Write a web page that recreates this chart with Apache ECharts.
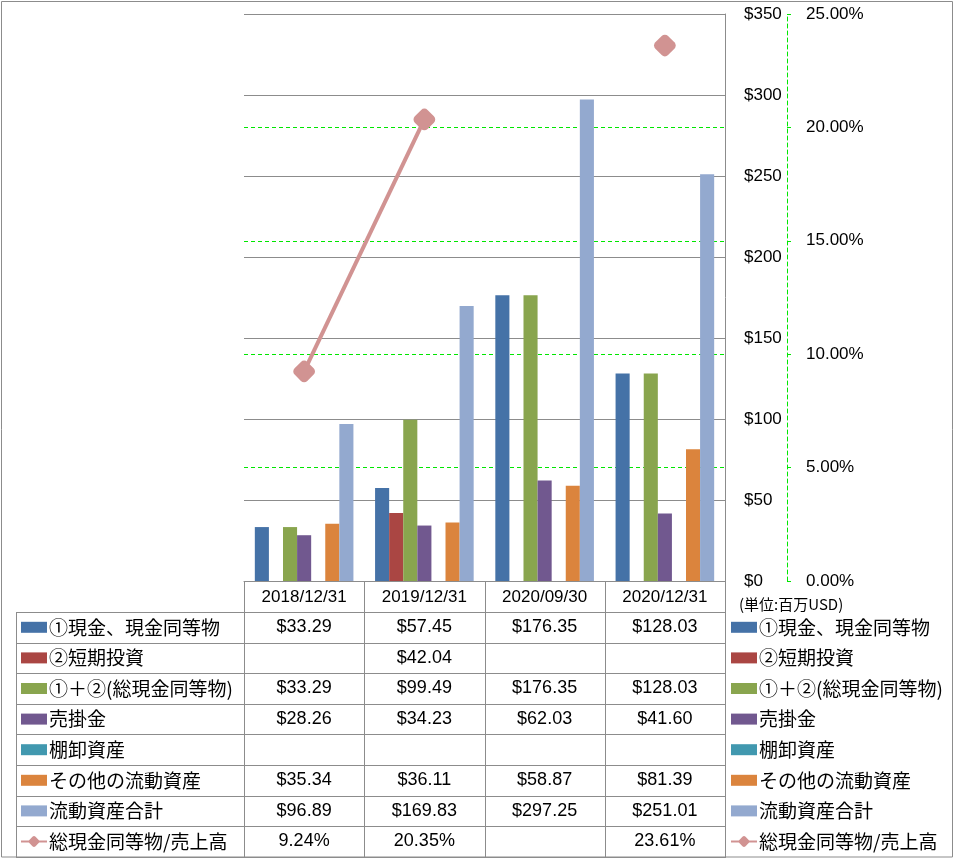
<!DOCTYPE html>
<html><head><meta charset="utf-8">
<script src="https://cdn.jsdelivr.net/npm/echarts@6/dist/echarts.min.js"></script>
<style>html,body{margin:0;padding:0;background:#fff}#c{width:957px;height:858px}</style>
</head><body><div id="c"></div>
<script>
const categories = ['2018/12/31', '2019/12/31', '2020/09/30', '2020/12/31'];
const seriesNames = ['①現金、現金同等物', '②短期投資', '①＋②(総現金同等物)', '売掛金', '棚卸資産', 'その他の流動資産', '流動資産合計', '総現金同等物/売上高'];
const cash = [33.29, 57.45, 176.35, 128.03];
const shortInv = [null, 42.04, null, null];
const totalCash = [33.29, 99.49, 176.35, 128.03];
const receivables = [28.26, 34.23, 62.03, 41.60];
const inventory = [null, null, null, null];
const otherCurrent = [35.34, 36.11, 58.87, 81.39];
const totalCurrent = [96.89, 169.83, 297.25, 251.01];
const cashToSales = [9.24, 20.35, null, 23.61];
const colors = ['#4572A7', '#AA4643', '#89A54E', '#71588F', '#4198AF', '#DB843D', '#93A9CF', '#D19392'];
const unitLabel = '(単位:百万USD)';

const barData = [cash, shortInv, totalCash, receivables, inventory, otherCurrent, totalCurrent];
const JP = '"Noto Sans CJK JP", sans-serif';
const NUM = '"Liberation Sans", "Noto Sans", sans-serif';
const grey = '#8c8c8c';
const green = '#00e600';

const gridTop = 14, gridBottomY = 581, gridLeft = 244, gridRight = 725;
const rowTop = 612, rowH = 30.6, tableBottom = 857, tableLeft = 16;

const chart = echarts.init(document.getElementById('c'), null, {renderer: 'canvas'});

const series = barData.map((d, i) => ({
  name: seriesNames[i], type: 'bar', data: d, yAxisIndex: 0,
  itemStyle: {color: colors[i]}, barGap: '0%', barCategoryGap: '18%'
}));
series.push({
  name: seriesNames[7], type: 'line', data: cashToSales, yAxisIndex: 1,
  connectNulls: false, symbol: 'roundRect', symbolSize: 18, symbolRotate: 45,
  lineStyle: {color: colors[7], width: 4}, itemStyle: {color: colors[7]}, z: 5
});

const legendData = seriesNames.map((n, i) => i < 7 ? {name: n, icon: 'rect'} : {name: n});
const legendCommon = {
  orient: 'vertical', top: rowTop, height: 8 * rowH + 4, padding: 0, itemGap: 0, itemWidth: 26, itemHeight: 11,
  data: legendData, selectedMode: false,
  textStyle: {fontFamily: JP, fontSize: 19, color: '#000', lineHeight: rowH, padding: [0, 0, 0, -3]}
};

chart.setOption({
  animation: false,
  color: colors,
  grid: {left: gridLeft, right: 957 - gridRight, top: gridTop, bottom: 858 - gridBottomY, containLabel: false},
  legend: [
    Object.assign({left: 20}, legendCommon),
    Object.assign({left: 730}, legendCommon)
  ],
  xAxis: {
    type: 'category', data: categories,
    axisLine: {show: true, lineStyle: {color: grey}},
    axisTick: {show: false},
    axisLabel: {margin: 8, fontFamily: NUM, fontSize: 17, color: '#000'}
  },
  yAxis: [
    {
      type: 'value', position: 'right', min: 0, max: 350, interval: 50,
      axisLine: {show: true, lineStyle: {color: grey}},
      axisTick: {show: false},
      splitLine: {show: true, lineStyle: {color: grey, width: 1}},
      axisLabel: {margin: 19, fontFamily: NUM, fontSize: 17, color: '#000', formatter: v => '$' + v}
    },
    {
      type: 'value', position: 'right', offset: 62, min: 0, max: 25, interval: 5,
      axisLine: {show: true, lineStyle: {color: green, type: [4, 3]}},
      axisTick: {show: true, length: 4, lineStyle: {color: green}},
      splitLine: {show: true, showMinLine: false, showMaxLine: false, lineStyle: {color: green, type: [4, 3]}},
      axisLabel: {margin: 19, fontFamily: NUM, fontSize: 17, color: '#000', formatter: v => v.toFixed(2) + '%'}
    }
  ],
  series: series
});

// data table built from the arrays
const g = [];
const line = (x1, y1, x2, y2) => g.push({type: 'line', silent: true, shape: {x1, y1, x2, y2}, style: {stroke: grey, lineWidth: 1}});
const colW = (gridRight - gridLeft) / categories.length;
const colEdges = [];
for (let i = 0; i <= categories.length; i++) {
  const x = i === categories.length ? gridRight : Math.round(chart.convertToPixel({xAxisIndex: 0}, i) - colW / 2);
  colEdges.push(x);
}
colEdges.forEach(x => line(x + 0.5, gridBottomY, x + 0.5, tableBottom));
line(tableLeft + 0.5, rowTop, tableLeft + 0.5, tableBottom);
for (let r = 0; r <= seriesNames.length; r++) {
  const y = Math.round(rowTop + r * rowH) + 0.5;
  line(tableLeft, y, gridRight + 1, y);
}
const allRows = barData.concat([cashToSales]);
allRows.forEach((row, r) => {
  row.forEach((v, c) => {
    if (v == null) return;
    const cx = chart.convertToPixel({xAxisIndex: 0}, c);
    g.push({
      type: 'text', silent: true, x: cx, y: rowTop + r * rowH + rowH / 2,
      style: {text: r === 7 ? v.toFixed(2) + '%' : '$' + v.toFixed(2), fill: '#000', font: '18px ' + NUM, align: 'center', verticalAlign: 'middle'}
    });
  });
});
g.push({type: 'text', silent: true, x: 739, y: 604, style: {text: unitLabel, fill: '#000', font: '15px ' + JP, align: 'left', verticalAlign: 'middle'}});
g.push({type: 'rect', silent: true, shape: {x: 1.5, y: 1.5, width: 951, height: 855.5}, style: {fill: 'none', stroke: grey, lineWidth: 1}});
chart.setOption({graphic: g});
</script></body></html>
